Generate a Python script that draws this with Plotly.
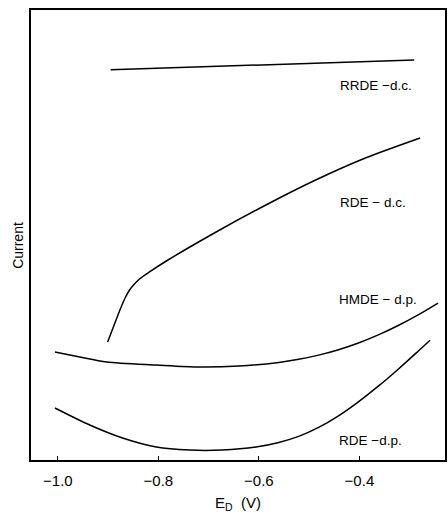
import plotly.graph_objects as go

# Potential E_D (V) and current (arbitrary units)
rrde_dc_x = [-0.895, -0.291]
rrde_dc_y = [86.7, 88.9]

rde_dc_x = [-0.9010, -0.8911, -0.8812, -0.8733, -0.8653, -0.8574, -0.8495, -0.8376,
            -0.8178, -0.7842, -0.6851, -0.5861, -0.4871, -0.3881, -0.2792]
rde_dc_y = [26.22, 29.11, 32.0, 34.22, 36.22, 37.78, 38.89, 40.22,
            41.78, 44.22, 50.67, 56.67, 62.22, 67.11, 71.56]

hmde_dp_x = [-1.0059, -0.9564, -0.9030, -0.8040, -0.7188, -0.6396, -0.5604, -0.5208,
             -0.4812, -0.4416, -0.4020, -0.3624, -0.3228, -0.2832, -0.2436]
hmde_dp_y = [24.0, 22.89, 21.78, 21.11, 20.67, 20.89, 21.69, 22.38,
             23.31, 24.51, 26.0, 27.80, 29.89, 32.24, 34.87]

rde_dp_x = [-1.0059, -0.9366, -0.8713, -0.8040, -0.7386, -0.6733, -0.6059, -0.5604, -0.5208,
            -0.4812, -0.4416, -0.4020, -0.3624, -0.3228, -0.2832, -0.2594]
rde_dp_y = [11.56, 7.78, 4.89, 2.89, 2.22, 2.22, 2.89, 3.91, 5.24,
            7.24, 9.82, 12.93, 16.40, 20.18, 24.18, 26.62]

label_text = ["RRDE \u2212d.c.", "RDE \u2212 d.c.", "HMDE \u2212 d.p.", "RDE \u2212d.p."]
label_x = [-0.4436, -0.4436, -0.4456, -0.4456]
label_y = [83.3, 57.3, 35.6, 4.4]

x_ticks = [-1.0, -0.8, -0.6, -0.4]

fig = go.Figure()
for xs, ys in [(rrde_dc_x, rrde_dc_y), (rde_dc_x, rde_dc_y),
               (hmde_dp_x, hmde_dp_y), (rde_dp_x, rde_dp_y)]:
    fig.add_trace(go.Scatter(x=xs, y=ys, mode="lines",
                             line=dict(color="black", width=1.5, shape="spline", smoothing=0.8),
                             showlegend=False, hoverinfo="skip"))

for t, x, y in zip(label_text, label_x, label_y):
    fig.add_annotation(x=x, y=y, text=t, showarrow=False, xanchor="left", yanchor="middle",
                       font=dict(family="Liberation Sans, Arial, sans-serif", size=13.5, color="black"))

# y-axis title placed as rotated text
fig.add_annotation(x=-0.03125, xref="paper", y=47.6, yref="y", text="Current",
                   textangle=-90, showarrow=False, xanchor="center", yanchor="middle",
                   font=dict(family="Liberation Sans, Arial, sans-serif", size=14, color="black"))

fig.update_layout(
    width=448, height=513,
    margin=dict(l=31, r=1, t=10, b=53),
    paper_bgcolor="white", plot_bgcolor="white",
    font=dict(family="Liberation Sans, Arial, sans-serif", color="black"),
    xaxis=dict(range=[-1.0535, -0.2297], tickvals=x_ticks, tickformat=".1f",
               ticks="inside", ticklen=4, tickcolor="black", tickwidth=1.2,
               ticklabelstandoff=6,
               showline=True, mirror=True, linecolor="black", linewidth=1.5,
               showgrid=False, zeroline=False, tickfont=dict(size=15),
               title=dict(text="E<sub>D</sub>  (V)", font=dict(size=15), standoff=10)),
    yaxis=dict(range=[0, 100], showticklabels=False, ticks="",
               showline=True, mirror=True, linecolor="black", linewidth=1.5,
               showgrid=False, zeroline=False),
)

fig.write_html("out.html")
